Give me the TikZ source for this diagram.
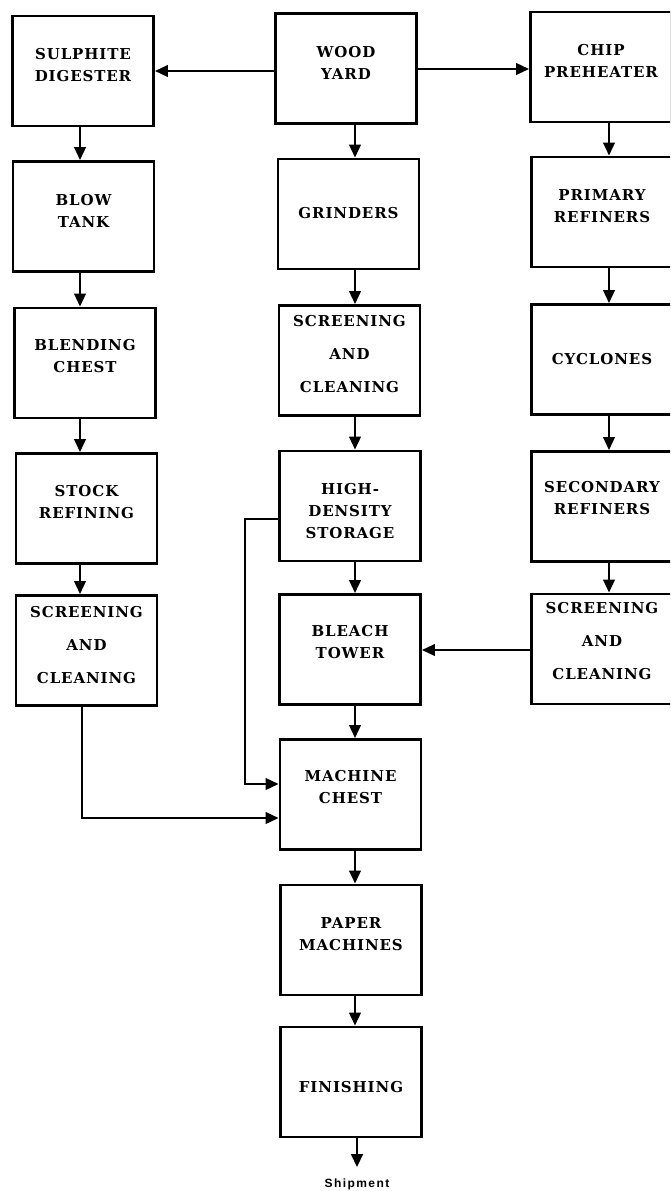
\documentclass[tikz,border=0pt]{standalone}
\usepackage{fontspec}
\usetikzlibrary{arrows.meta}
\newfontfamily\boxfont{DejaVu Serif}[LetterSpace=6]
\newfontfamily\shipfont{Liberation Sans}[LetterSpace=12]
\begin{document}
\begin{tikzpicture}[x=1pt,y=-1pt,
  box/.style={draw, line width=2.8pt, minimum width=141pt, minimum height=110pt, inner sep=0pt},
  lbl/.style={font=\boxfont\bfseries\fontsize{15}{22}\selectfont, align=center, inner sep=0pt},
  lblw/.style={font=\boxfont\bfseries\fontsize{15}{33}\selectfont, align=center, inner sep=0pt},
  arr/.style={line width=2.5pt, -{Triangle[length=13pt,width=11.5pt]}},
  shipstyle/.style={font=\shipfont\bfseries\fontsize{12}{14}\selectfont, inner sep=0pt}]
\path[use as bounding box, clip] (0,0) rectangle (670,1191);
\fill[white] (0,0) rectangle (670,1191);
% left column
\node[box] (sd) at (83,71) {};
\node[box] (bt) at (83.5,216.5) {};
\node[box] (bc) at (85,363) {};
\node[box] (sr) at (86.5,508.5) {};
\node[box] (ls) at (86.5,650.5) {};
% center column
\node[box] (wy) at (346,68.5) {};
\node[box] (gr) at (348.5,214) {};
\node[box] (sc) at (349.5,360.5) {};
\node[box] (hd) at (350,506) {};
\node[box] (bl) at (350,649.5) {};
\node[box] (mc) at (350.5,794.5) {};
\node[box] (pm) at (351,940) {};
\node[box] (fi) at (351,1082) {};
% right column
\node[box] (cp) at (601,67) {};
\node[box] (pr) at (602,212) {};
\node[box] (cy) at (602,359.5) {};
\node[box] (se) at (602,506.5) {};
\node[box] (rs) at (602,649) {};
% labels
\node[lbl] at ([yshift=5.5pt]sd.center) {SULPHITE\\DIGESTER};
\node[lbl] at ([yshift=5.5pt]bt.center) {BLOW\\TANK};
\node[lbl] at ([yshift=6.5pt]bc.center) {BLENDING\\CHEST};
\node[lbl] at ([yshift=6.5pt]sr.center) {STOCK\\REFINING};
\node[lblw] at ([yshift=5.5pt]ls.center) {SCREENING\\AND\\CLEANING};
\node[lbl] at ([yshift=5.5pt]wy.center) {WOOD\\YARD};
\node[lbl] at ([yshift=1pt]gr.center) {GRINDERS};
\node[lblw] at ([yshift=6pt]sc.center) {SCREENING\\AND\\CLEANING};
\node[lbl] at ([yshift=-5pt]hd.center) {HIGH-\\DENSITY\\STORAGE};
\node[lbl] at ([yshift=7pt]bl.center) {BLEACH\\TOWER};
\node[lbl] at ([yshift=7pt]mc.center) {MACHINE\\CHEST};
\node[lbl] at ([yshift=6pt]pm.center) {PAPER\\MACHINES};
\node[lbl] at ([yshift=-5pt]fi.center) {FINISHING};
\node[lbl] at ([yshift=6pt]cp.center) {CHIP\\PREHEATER};
\node[lbl] at ([yshift=6pt]pr.center) {PRIMARY\\REFINERS};
\node[lbl] at (cy.center) {CYCLONES};
\node[lbl] at ([yshift=8pt]se.center) {SECONDARY\\REFINERS};
\node[lblw] at ([yshift=7.5pt]rs.center) {SCREENING\\AND\\CLEANING};
\node[shipstyle] (ship) at (357,1184) {Shipment};
% guide coordinates
\coordinate (colL) at (80,0);
\coordinate (colC) at (355,0);
\coordinate (colR) at (609,0);
\coordinate (hA) at (0,71);
\coordinate (hB) at (0,69);
\coordinate (hC) at (0,650);
\coordinate (kD) at (245,519);
\coordinate (kE) at (245,784);
\coordinate (kL) at (82,818);
% vertical arrows
\draw[arr] (sd.south -| colL) -- (bt.north -| colL);
\draw[arr] (bt.south -| colL) -- (bc.north -| colL);
\draw[arr] (bc.south -| colL) -- (sr.north -| colL);
\draw[arr] (sr.south -| colL) -- (ls.north -| colL);
\draw[arr] (wy.south -| colC) -- (gr.north -| colC);
\draw[arr] (gr.south -| colC) -- (sc.north -| colC);
\draw[arr] (sc.south -| colC) -- (hd.north -| colC);
\draw[arr] (hd.south -| colC) -- (bl.north -| colC);
\draw[arr] (bl.south -| colC) -- (mc.north -| colC);
\draw[arr] (mc.south -| colC) -- (pm.north -| colC);
\draw[arr] (pm.south -| colC) -- (fi.north -| colC);
\draw[arr, shorten >=11pt] (fi.south -| ship) -- (ship.north);
\draw[arr] (cp.south -| colR) -- (pr.north -| colR);
\draw[arr] (pr.south -| colR) -- (cy.north -| colR);
\draw[arr] (cy.south -| colR) -- (se.north -| colR);
\draw[arr] (se.south -| colR) -- (rs.north -| colR);
% horizontal arrows
\draw[arr] (wy.west |- hA) -- (sd.east |- hA);
\draw[arr] (wy.east |- hB) -- (cp.west |- hB);
\draw[arr] (rs.west |- hC) -- (bl.east |- hC);
% merge lines
\draw[arr] (hd.west |- kD) -- (kD) -- (kE) -- (mc.west |- kE);
\draw[arr] (ls.south -| kL) -- (kL) -- (mc.west |- kL);
\end{tikzpicture}
\end{document}
